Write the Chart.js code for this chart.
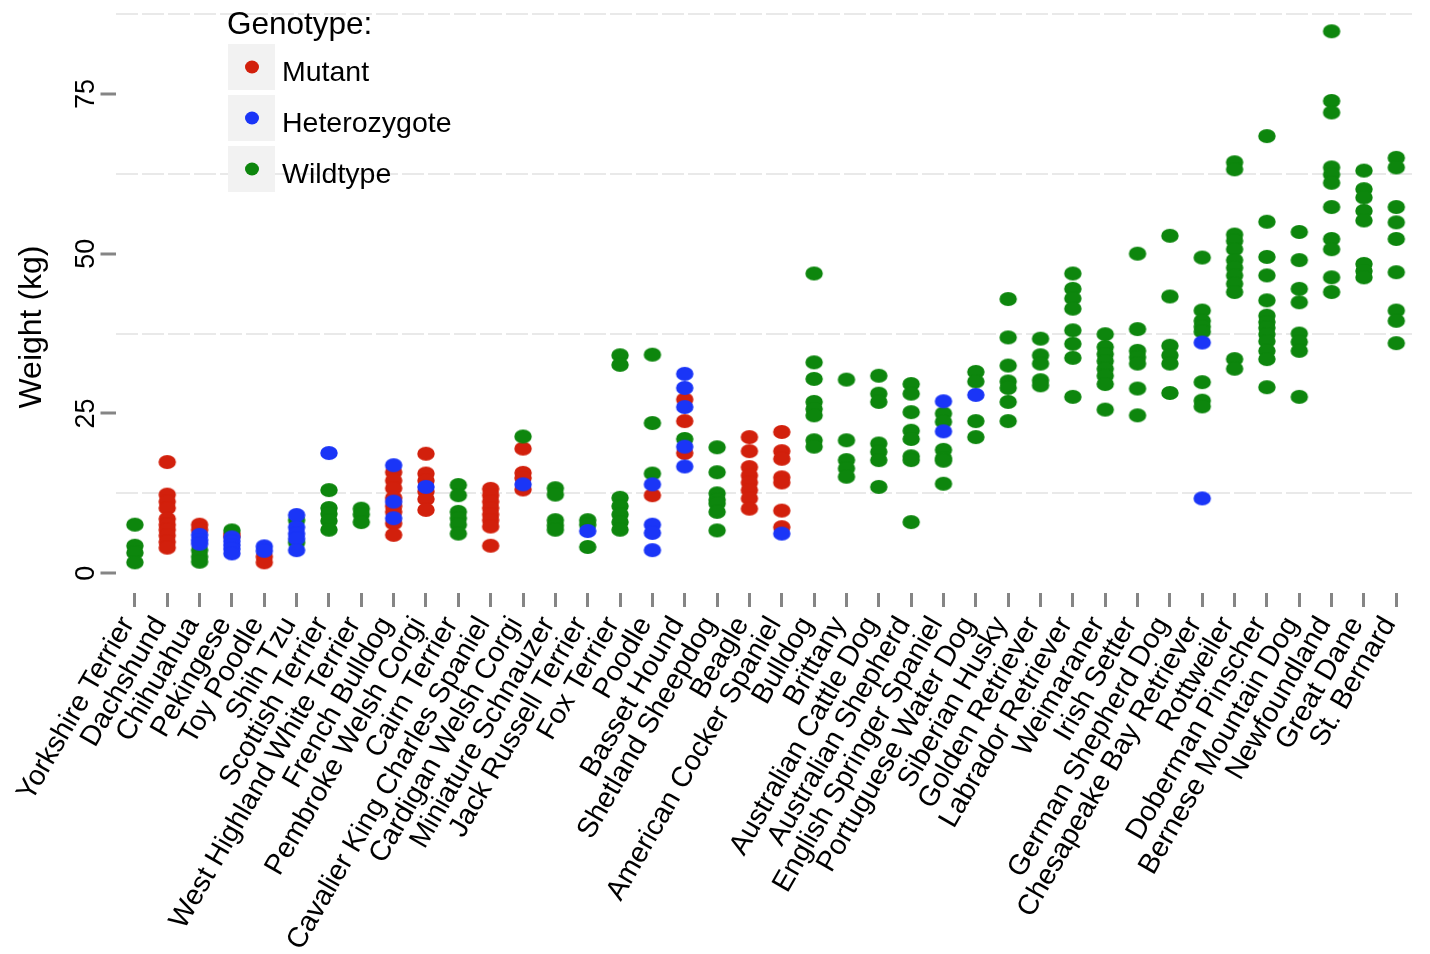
<!DOCTYPE html>
<html>
<head>
<meta charset="utf-8">
<title>Weight by breed and genotype</title>
<script src="https://cdn.jsdelivr.net/npm/chart.js@4.4.1/dist/chart.umd.min.js"></script>
<style>
  html, body { margin: 0; padding: 0; background: #ffffff; }
  #wrap { position: relative; width: 1430px; height: 954px; }
  canvas { display: block; }
</style>
</head>
<body>
<div id="wrap"><canvas id="chart" width="1430" height="954"></canvas></div>
<script>
// Breeds, ordered by typical weight
const breeds = [
  "Yorkshire Terrier", "Dachshund", "Chihuahua", "Pekingese", "Toy Poodle",
  "Shih Tzu", "Scottish Terrier", "West Highland White Terrier", "French Bulldog",
  "Pembroke Welsh Corgi", "Cairn Terrier", "Cavalier King Charles Spaniel",
  "Cardigan Welsh Corgi", "Miniature Schnauzer", "Jack Russell Terrier",
  "Fox Terrier", "Poodle", "Basset Hound", "Shetland Sheepdog", "Beagle",
  "American Cocker Spaniel", "Bulldog", "Brittany", "Australian Cattle Dog",
  "Australian Shepherd", "English Springer Spaniel", "Portuguese Water Dog",
  "Siberian Husky", "Golden Retriever", "Labrador Retriever", "Weimaraner",
  "Irish Setter", "German Shepherd Dog", "Chesapeake Bay Retriever", "Rottweiler",
  "Doberman Pinscher", "Bernese Mountain Dog", "Newfoundland", "Great Dane",
  "St. Bernard"
];

// Individual weights (kg) per breed, one list per genotype (same order as breeds)
const mutant = [
  [], [17.4, 12.3, 11.2, 10.2, 8.5, 7.6, 6.8, 5.9, 4.9, 4.0], [7.6, 6.8], [6.2, 5.8], [2.6, 1.7],
  [], [], [], [15.8, 14.5, 13.3, 11.8, 10.5, 9.6, 7.8, 6.0], [18.7, 15.6, 14.5, 12.8, 11.6, 9.9],
  [], [13.2, 12.2, 11.2, 10.2, 9.2, 8.3, 7.3, 4.3], [19.5, 15.7, 14.9, 13.1], [], [],
  [], [12.2], [27.2, 23.8, 18.8], [], [21.3, 19.1, 16.6, 15.3, 14.2, 13.0, 11.7, 10.1],
  [22.1, 19.1, 17.9, 15.0, 14.2, 9.8, 7.2], [], [], [], [],
  [], [], [], [], [], [], [], [], [], [], [], [], [], [], []
];

const heterozygote = [
  [], [], [6.0, 5.2, 4.6], [5.6, 5.0, 4.4, 3.8, 3.1], [4.2, 3.5],
  [9.1, 7.2, 6.2, 5.4, 3.6], [18.8], [], [16.9, 11.2, 8.6], [13.5],
  [], [], [13.9], [], [6.6],
  [], [13.9, 7.6, 6.3, 3.6], [31.2, 29.0, 26.0, 19.8, 16.7], [], [],
  [6.2], [], [], [], [],
  [26.9, 22.2], [27.9], [], [], [], [], [], [], [36.1, 11.7], [],
  [], [], [], [], []
];

const wildtype = [
  [7.6, 4.3, 3.2, 1.7], [], [3.6, 2.6, 1.8], [6.7], [],
  [8.3, 4.8], [13.0, 10.2, 9.3, 8.2, 6.8], [10.1, 9.2, 8.0], [], [],
  [13.8, 12.2, 9.6, 8.6, 7.6, 6.2], [], [21.4], [13.3, 12.3, 8.3, 7.5, 6.8], [8.3, 7.6, 4.1],
  [34.1, 32.6, 11.8, 10.5, 9.2, 8.0, 6.8], [34.2, 23.5, 15.6], [21.0],
  [19.7, 15.8, 12.5, 11.5, 10.9, 9.6, 6.7], [],
  [], [46.9, 33.0, 30.4, 26.8, 25.7, 24.7, 20.8, 19.8], [30.3, 20.8, 17.7, 16.4, 15.1],
  [30.9, 28.1, 26.8, 20.3, 19.0, 17.7, 13.5], [29.6, 28.1, 25.2, 22.3, 21.0, 18.3, 17.7, 8.0],
  [25.0, 23.7, 19.3, 18.0, 17.6, 14.0], [31.5, 30.0, 23.8, 21.3],
  [42.9, 36.9, 32.5, 30.0, 29.0, 26.8, 23.8], [36.7, 34.1, 32.8, 30.2, 29.4],
  [46.9, 44.5, 43.0, 41.4, 38.0, 35.9, 33.7, 27.6],
  [37.4, 35.4, 34.3, 33.2, 32.0, 30.9, 29.6, 25.6],
  [50.0, 38.2, 34.8, 33.8, 32.8, 28.9, 24.7],
  [52.8, 43.3, 35.6, 34.1, 32.8, 28.2],
  [49.4, 41.1, 39.5, 38.6, 37.8, 29.9, 27.0, 26.1],
  [64.3, 63.2, 53.0, 52.0, 50.7, 49.0, 47.8, 46.6, 45.3, 44.0, 33.5, 32.0],
  [68.4, 55.0, 49.5, 46.6, 42.7, 40.3, 39.3, 38.4, 37.4, 36.3, 34.8, 33.5, 29.1],
  [53.4, 49.0, 44.5, 42.4, 37.5, 36.2, 34.8, 27.6],
  [84.8, 73.9, 72.1, 63.5, 62.4, 61.1, 57.3, 52.3, 50.7, 46.3, 44.0],
  [63.0, 60.1, 58.8, 56.7, 55.2, 48.4, 47.3, 46.3],
  [65.0, 63.5, 57.3, 54.9, 52.3, 47.1, 41.1, 39.5, 36.0]
];

const genotypeNames = ["Mutant", "Heterozygote", "Wildtype"];
const yTickValues = [0, 12.5, 25, 37.5, 50, 62.5, 75, 87.5];

const colors = { Mutant: "#d2200c", Heterozygote: "#1a35f7", Wildtype: "#0d860d" };
const FONT = "'Liberation Sans', Arial, Helvetica, sans-serif";

// Slightly wide oval marker
function ovalMarker(color, w, h) {
  const c = document.createElement("canvas");
  c.width = Math.ceil(w) + 2;
  c.height = Math.ceil(h) + 2;
  const g = c.getContext("2d");
  g.fillStyle = color;
  g.beginPath();
  g.ellipse(c.width / 2, c.height / 2, w / 2, h / 2, 0, 0, Math.PI * 2);
  g.fill();
  return c;
}

function toPoints(lists) {
  const pts = [];
  lists.forEach((vals, i) => vals.forEach(v => pts.push({ x: i, y: v })));
  return pts;
}

const seriesByName = { Mutant: mutant, Heterozygote: heterozygote, Wildtype: wildtype };
const drawOrder = { Mutant: 2, Heterozygote: 0, Wildtype: 1 };

const datasets = genotypeNames.map(name => ({
  label: name,
  data: toPoints(seriesByName[name]),
  pointStyle: ovalMarker(colors[name], 17.5, 14),
  backgroundColor: colors[name],
  borderColor: colors[name],
  pointRadius: 8,
  pointHoverRadius: 8,
  showLine: false,
  order: drawOrder[name]
}));

// Legend in the upper-left of the panel, with grey key tiles
const legendPlugin = {
  id: "genotypeLegend",
  afterDraw(chart) {
    const ctx = chart.ctx;
    ctx.save();
    ctx.fillStyle = "#000";
    ctx.font = "31.5px " + FONT;
    ctx.textAlign = "left";
    ctx.textBaseline = "alphabetic";
    ctx.fillText("Genotype:", 227, 34);
    genotypeNames.forEach((name, i) => {
      const top = 44 + i * 51;
      ctx.fillStyle = "#f2f2f2";
      ctx.fillRect(228, top, 47, 46);
      ctx.fillStyle = colors[name];
      ctx.beginPath();
      ctx.ellipse(252, top + 23, 7, 6.5, 0, 0, Math.PI * 2);
      ctx.fill();
      ctx.fillStyle = "#000";
      ctx.font = "28.5px " + FONT;
      ctx.fillText(name, 282, top + 37);
    });
    ctx.restore();
  }
};

// Vertical-reading y tick labels and axis title
const yLabelPlugin = {
  id: "yLabels",
  afterDraw(chart) {
    const ctx = chart.ctx;
    const ys = chart.scales.y;
    ctx.save();
    ctx.fillStyle = "#000";
    ctx.textAlign = "center";
    ctx.textBaseline = "alphabetic";
    ctx.font = "27px " + FONT;
    ys.ticks.forEach(t => {
      if (t.value % 25 !== 0) return;
      const py = ys.getPixelForValue(t.value);
      ctx.save();
      ctx.translate(94, py);
      ctx.rotate(-Math.PI / 2);
      ctx.fillText(String(t.value), 0, 0);
      ctx.restore();
    });
    ctx.font = "32px " + FONT;
    ctx.translate(41, 327);
    ctx.rotate(-Math.PI / 2);
    ctx.fillText("Weight (kg)", 0, 0);
    ctx.restore();
  }
};

const isMajor = v => v % 25 === 0;

new Chart(document.getElementById("chart"), {
  type: "scatter",
  data: { datasets },
  options: {
    responsive: false,
    animation: false,
    events: [],
    layout: { autoPadding: false, padding: { left: 0, right: 6.5, top: 0, bottom: 0 } },
    plugins: { legend: { display: false }, tooltip: { enabled: false } },
    scales: {
      x: {
        type: "linear",
        min: -0.6,
        max: breeds.length - 0.4,
        afterBuildTicks: scale => { scale.ticks = breeds.map((b, i) => ({ value: i })); },
        afterFit: scale => { scale.height = 361; },
        border: { display: false },
        grid: {
          drawOnChartArea: false,
          drawTicks: true,
          tickLength: 14,
          tickWidth: 3,
          tickColor: "#858585"
        },
        ticks: {
          autoSkip: false,
          minRotation: 60,
          maxRotation: 60,
          padding: 4,
          labelOffset: -7,
          color: "#000",
          font: { family: FONT, size: 28.5 },
          callback: v => breeds[v]
        }
      },
      y: {
        type: "linear",
        min: -3.1,
        max: 89.7,
        afterBuildTicks: scale => { scale.ticks = yTickValues.map(v => ({ value: v })); },
        afterFit: scale => { scale.width = 115.5; },
        border: { display: false, dash: [22, 4] },
        grid: {
          lineWidth: 2,
          color: c => (c.tick && isMajor(c.tick.value)) ? "rgba(0,0,0,0)" : "#e9e9e9",
          drawTicks: true,
          tickLength: 15,
          tickWidth: 3,
          tickColor: c => (c.tick && isMajor(c.tick.value)) ? "#858585" : "rgba(0,0,0,0)"
        },
        ticks: { display: false }
      }
    }
  },
  plugins: [legendPlugin, yLabelPlugin]
});
</script>
</body>
</html>
